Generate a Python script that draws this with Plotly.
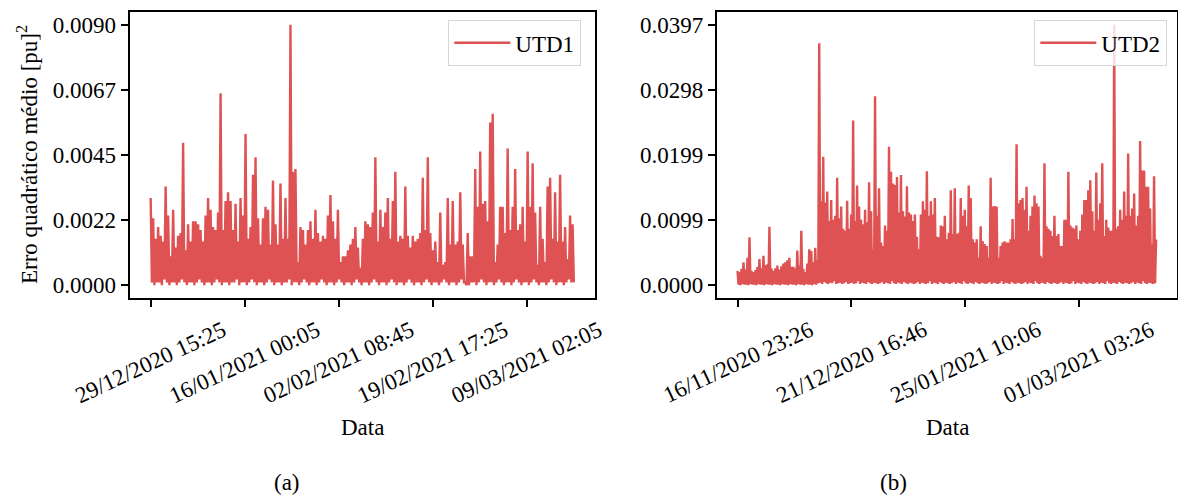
import pandas as pd
import plotly.graph_objects as go

# ---------------- data ----------------
utd1_start = "2020-12-29 15:25"
utd1_step_min = 332
utd1_peaks = [
    0.0030, 0.0023, 0.0016, 0.0020, 0.0017, 0.0015, 0.0034, 0.0024, 0.0010, 0.0026,
    0.0013, 0.0017, 0.0018, 0.0049, 0.0012, 0.0021, 0.0015, 0.0022, 0.0022, 0.0021,
    0.0019, 0.0015, 0.0024, 0.0030, 0.0026, 0.0020, 0.0019, 0.0025, 0.0066, 0.0019,
    0.0029, 0.0032, 0.0029, 0.0019, 0.0028, 0.0015, 0.0030, 0.0024, 0.0052, 0.0016,
    0.0020, 0.0038, 0.0044, 0.0023, 0.0014, 0.0023, 0.0027, 0.0026, 0.0014, 0.0036,
    0.0021, 0.0014, 0.0035, 0.0016, 0.0030, 0.0016, 0.00896, 0.0039, 0.0040, 0.0008,
    0.0020, 0.0019, 0.0014, 0.0019, 0.0022, 0.0016, 0.0026, 0.0018, 0.0015, 0.0017,
    0.0016, 0.0024, 0.0031, 0.0022, 0.0016, 0.0026, 0.0008, 0.0010, 0.0010, 0.0012,
    0.0014, 0.0016, 0.0020, 0.0013, 0.0006, 0.0016, 0.0022, 0.0021, 0.0020, 0.0025,
    0.0044, 0.0015, 0.0026, 0.0020, 0.0025, 0.0030, 0.0016, 0.0029, 0.0039, 0.0015,
    0.0017, 0.0016, 0.0034, 0.0017, 0.0013, 0.0017, 0.0015, 0.0016, 0.0018, 0.0037,
    0.0019, 0.0044, 0.0018, 0.0012, 0.0015, 0.0008, 0.0025, 0.0007, 0.0008, 0.0030,
    0.0014, 0.0029, 0.0014, 0.0015, 0.0032, 0.0014, 0.0001, 0.0018, 0.0010, 0.0010,
    0.0040, 0.0027, 0.0046, 0.0028, 0.0029, 0.0022, 0.0056, 0.0059, 0.0008, 0.0014,
    0.0027, 0.0027, 0.0018, 0.0047, 0.0019, 0.0027, 0.0040, 0.0019, 0.0021, 0.0027,
    0.0015, 0.0046, 0.0027, 0.0042, 0.0025, 0.0007, 0.0027, 0.0016, 0.0008, 0.0034,
    0.0037, 0.0016, 0.0032, 0.0015, 0.0038, 0.0015, 0.0020, 0.0009, 0.0024, 0.0021,
]
utd1_lows = [
    0.0001, 0.0000, 0.0001, 0.0001, 0.0000, 0.0002, 0.0001, 0.0000, 0.0001, 0.0001,
    0.0000, 0.0001, 0.0002, 0.0001, 0.0000, 0.0001, 0.0001, 0.0000, 0.0001, 0.0002,
    0.0001, 0.0000, 0.0001, 0.0001, 0.0000, 0.0001, 0.0002, 0.0001, 0.0000, 0.0001,
    0.0001, 0.0000, 0.0001, 0.0001, 0.0002, 0.0000, 0.0001, 0.0001, 0.0000, 0.0001,
    0.0002, 0.0001, 0.0000, 0.0001, 0.0001, 0.0000, 0.0001, 0.0002, 0.0001, 0.0000,
    0.0001, 0.0001, 0.0000, 0.0001, 0.0001, 0.0002, 0.0000, 0.0001, 0.0001, 0.0000,
    0.0001, 0.0002, 0.0001, 0.0000, 0.0001, 0.0001, 0.0000, 0.0001, 0.0002, 0.0001,
    0.0000, 0.0001, 0.0001, 0.0000, 0.0001, 0.0002, 0.0001, 0.0000, 0.0001, 0.0001,
    0.0000, 0.0001, 0.0002, 0.0001, 0.0000, 0.0001, 0.0001, 0.0000, 0.0001, 0.0002,
    0.0001, 0.0000, 0.0001, 0.0001, 0.0000, 0.0001, 0.0002, 0.0001, 0.0000, 0.0001,
    0.0001, 0.0000, 0.0001, 0.0002, 0.0001, 0.0000, 0.0001, 0.0001, 0.0000, 0.0001,
    0.0002, 0.0001, 0.0000, 0.0001, 0.0001, 0.0000, 0.0001, 0.0002, 0.0001, 0.0000,
    0.0001, 0.0001, 0.0000, 0.0001, 0.0002, 0.0001, 0.0000, 0.0000, 0.0001, 0.0001,
    0.0000, 0.0001, 0.0002, 0.0001, 0.0000, 0.0001, 0.0001, 0.0000, 0.0001, 0.0002,
    0.0001, 0.0000, 0.0001, 0.0001, 0.0000, 0.0001, 0.0002, 0.0001, 0.0000, 0.0001,
    0.0001, 0.0000, 0.0001, 0.0002, 0.0001, 0.0000, 0.0001, 0.0001, 0.0000, 0.0001,
    0.0002, 0.0001, 0.0000, 0.0001, 0.0001, 0.0000, 0.0001, 0.0002, 0.0001, 0.0001,
]

utd2_start = "2020-11-16 23:26"
utd2_step_min = 438
utd2_peaks = [
    0.0022, 0.0020, 0.0025, 0.0035, 0.0024, 0.0042, 0.0073, 0.0022, 0.0020, 0.0023,
    0.0028, 0.0040, 0.0026, 0.0045, 0.0031, 0.0032, 0.0089, 0.0026, 0.0022, 0.0026,
    0.0030, 0.0024, 0.0029, 0.0033, 0.0035, 0.0038, 0.0042, 0.0028, 0.0028, 0.0026,
    0.0053, 0.0030, 0.0083, 0.0025, 0.0020, 0.0033, 0.0055, 0.0052, 0.0035, 0.0057,
    0.0038, 0.0369, 0.0128, 0.0196, 0.0126, 0.0143, 0.0098, 0.0130, 0.0100, 0.0106,
    0.0164, 0.0102, 0.0120, 0.0086, 0.0083, 0.0129, 0.0086, 0.0108, 0.0251, 0.0098,
    0.0152, 0.0120, 0.0100, 0.0093, 0.0115, 0.0096, 0.0157, 0.0113, 0.0055, 0.0288,
    0.0106, 0.0148, 0.0065, 0.0060, 0.0091, 0.0083, 0.0211, 0.0173, 0.0155, 0.0153,
    0.0165, 0.0111, 0.0168, 0.0113, 0.0105, 0.0151, 0.0111, 0.0108, 0.0098, 0.0108,
    0.0074, 0.0055, 0.0108, 0.0128, 0.0115, 0.0174, 0.0106, 0.0128, 0.0108, 0.0133,
    0.0074, 0.0073, 0.0091, 0.0090, 0.0106, 0.0070, 0.0080, 0.0145, 0.0078, 0.0148,
    0.0078, 0.0080, 0.0133, 0.0106, 0.0115, 0.0090, 0.0152, 0.0133, 0.0070, 0.0065,
    0.0070, 0.0042, 0.0090, 0.0067, 0.0063, 0.0060, 0.0042, 0.0164, 0.0120, 0.0121,
    0.0120, 0.0042, 0.0060, 0.0065, 0.0067, 0.0065, 0.0065, 0.0070, 0.0101, 0.0070,
    0.0215, 0.0125, 0.0130, 0.0133, 0.0115, 0.0150, 0.0083, 0.0106, 0.0120, 0.0137,
    0.0125, 0.0120, 0.0045, 0.0042, 0.0186, 0.0090, 0.0086, 0.0083, 0.0075, 0.0106,
    0.0075, 0.0078, 0.0060, 0.0060, 0.0100, 0.0100, 0.0173, 0.0091, 0.0088, 0.0086,
    0.0091, 0.0070, 0.0083, 0.0108, 0.0130, 0.0130, 0.0145, 0.0160, 0.0113, 0.0083,
    0.0172, 0.0100, 0.0125, 0.0186, 0.0075, 0.0100, 0.0088, 0.0083, 0.0083, 0.03972,
    0.0086, 0.0090, 0.0115, 0.0100, 0.0143, 0.0106, 0.0201, 0.0106, 0.0117, 0.0140,
    0.0091, 0.0106, 0.0220, 0.0175, 0.0175, 0.0150, 0.0150, 0.0117, 0.0063, 0.0166,
    0.0070,
]
utd2_lows = [
    0.0001, 0.0000, 0.0002, 0.0001, 0.0001, 0.0000, 0.0002, 0.0001, 0.0001, 0.0000,
    0.0002, 0.0001, 0.0001, 0.0000, 0.0002, 0.0001, 0.0001, 0.0000, 0.0002, 0.0001,
    0.0001, 0.0000, 0.0002, 0.0001, 0.0001, 0.0000, 0.0002, 0.0001, 0.0001, 0.0000,
    0.0002, 0.0001, 0.0001, 0.0000, 0.0002, 0.0001, 0.0001, 0.0000, 0.0002, 0.0001,
    0.0003, 0.0004, 0.0002, 0.0005, 0.0003, 0.0002, 0.0004, 0.0003, 0.0006, 0.0002,
    0.0003, 0.0004, 0.0002, 0.0003, 0.0005, 0.0002, 0.0003, 0.0004, 0.0002, 0.0003,
    0.0006, 0.0002, 0.0004, 0.0003, 0.0002, 0.0005, 0.0003, 0.0002, 0.0004, 0.0003,
    0.0002, 0.0003, 0.0005, 0.0002, 0.0004, 0.0003, 0.0002, 0.0006, 0.0003, 0.0002,
    0.0004, 0.0003, 0.0002, 0.0005, 0.0003, 0.0002, 0.0004, 0.0003, 0.0002, 0.0003,
    0.0005, 0.0002, 0.0004, 0.0003, 0.0002, 0.0003, 0.0006, 0.0002, 0.0004, 0.0003,
    0.0002, 0.0005, 0.0003, 0.0002, 0.0004, 0.0003, 0.0002, 0.0003, 0.0005, 0.0002,
    0.0004, 0.0003, 0.0002, 0.0006, 0.0003, 0.0002, 0.0004, 0.0003, 0.0002, 0.0005,
    0.0003, 0.0002, 0.0004, 0.0003, 0.0002, 0.0003, 0.0005, 0.0002, 0.0004, 0.0003,
    0.0002, 0.0003, 0.0006, 0.0002, 0.0004, 0.0003, 0.0002, 0.0005, 0.0003, 0.0002,
    0.0004, 0.0003, 0.0002, 0.0003, 0.0005, 0.0002, 0.0004, 0.0003, 0.0002, 0.0006,
    0.0003, 0.0002, 0.0004, 0.0003, 0.0002, 0.0005, 0.0003, 0.0002, 0.0004, 0.0003,
    0.0002, 0.0003, 0.0005, 0.0002, 0.0004, 0.0003, 0.0002, 0.0003, 0.0006, 0.0002,
    0.0004, 0.0003, 0.0002, 0.0005, 0.0003, 0.0002, 0.0004, 0.0003, 0.0002, 0.0003,
    0.0005, 0.0002, 0.0004, 0.0003, 0.0002, 0.0006, 0.0003, 0.0002, 0.0004, 0.0003,
    0.0002, 0.0005, 0.0003, 0.0002, 0.0004, 0.0003, 0.0002, 0.0003, 0.0005, 0.0002,
    0.0004, 0.0003, 0.0002, 0.0006, 0.0003, 0.0002, 0.0004, 0.0003, 0.0002, 0.0003,
]

utd1_ticks = ["29/12/2020 15:25", "16/01/2021 00:05", "02/02/2021 08:45",
              "19/02/2021 17:25", "09/03/2021 02:05"]
utd2_ticks = ["16/11/2020 23:26", "21/12/2020 16:46", "25/01/2021 10:06",
              "01/03/2021 03:26"]

series_names = ["UTD1", "UTD2"]
y_title = "Erro quadrático médio [pu]<sup>2</sup>"
x_title = "Data"
captions = ["(a)", "(b)"]

# ---------------- build ----------------
def build(peaks, lows, start, step):
    vals = []
    for i, p in enumerate(peaks):
        vals.append(p)
        if i < len(lows):
            vals.append(lows[i])
    t = pd.date_range(start, periods=len(vals), freq=f"{step}min")
    return t, vals

t1, v1 = build(utd1_peaks, utd1_lows, utd1_start, utd1_step_min)
t2, v2 = build(utd2_peaks, utd2_lows, utd2_start, utd2_step_min)

W, H = 1178, 495
FONT = "Liberation Serif"
FS = 23
RED = "rgb(222,82,83)"

def xr(t):
    span = t[-1] - t[0]
    return [str(t[0] - span * 0.05), str(t[-1] + span * 0.05)]

def yr(v):
    lo, hi = min(v), max(v)
    s = hi - lo
    return [lo - 0.05 * s, hi + 0.05 * s]

def yticks(v):
    m = max(v)
    vals = [m * i / 4 for i in range(5)]
    return vals, [f"{x:.4f}" for x in vals]

fig = go.Figure()
fig.add_trace(go.Scatter(x=t1, y=v1, mode="lines", name=series_names[0],
                         line=dict(color=RED, width=2.4), xaxis="x", yaxis="y",
                         legend="legend"))
fig.add_trace(go.Scatter(x=t2, y=v2, mode="lines", name=series_names[1],
                         line=dict(color=RED, width=2.4), xaxis="x2", yaxis="y2",
                         legend="legend2"))

ydom = [1 - 298.3 / H, 1 - 11.7 / H]
axis_common = dict(showline=True, linecolor="black", linewidth=1.7, mirror=True,
                   ticks="outside", ticklen=7, tickwidth=1.7, tickcolor="black",
                   showgrid=False, zeroline=False, automargin=False,
                   tickfont=dict(family=FONT, size=FS, color="black"))

tv1, tt1 = yticks(v1)
tv2, tt2 = yticks(v2)
fmt = "%d/%m/%Y %H:%M"
xt1 = pd.to_datetime(utd1_ticks, format=fmt)
xt2 = pd.to_datetime(utd2_ticks, format=fmt)

legend_common = dict(y=1 - 20 / H, yanchor="top", xanchor="right",
                     bgcolor="rgba(255,255,255,0.8)", bordercolor="#d6d6d6",
                     borderwidth=1.3, itemwidth=56, entrywidth=145,
                     entrywidthmode="pixels",
                     font=dict(family=FONT, size=FS, color="black"))

fig.update_layout(
    width=W, height=H, margin=dict(l=0, r=0, t=0, b=0, autoexpand=False),
    paper_bgcolor="white", plot_bgcolor="white",
    font=dict(family=FONT, size=FS, color="black"),
    xaxis=dict(domain=[129.5 / W, 595 / W], range=xr(t1), type="date",
               tickvals=xt1, showticklabels=False, anchor="y", **axis_common),
    yaxis=dict(domain=ydom, range=yr(v1), tickvals=tv1, ticktext=tt1,
               anchor="x", **axis_common),
    xaxis2=dict(domain=[716.6 / W, 1177 / W], range=xr(t2), type="date",
                tickvals=xt2, showticklabels=False, anchor="y2", **axis_common),
    yaxis2=dict(domain=ydom, range=yr(v2), tickvals=tv2, ticktext=tt2,
                anchor="x2", **axis_common),
    legend=dict(x=581 / W, **legend_common),
    legend2=dict(x=1167 / W, **legend_common),
    showlegend=True,
)

# rotated, centred date tick labels
for xref, tvals, labels in (("x", xt1, utd1_ticks), ("x2", xt2, utd2_ticks)):
    for tv, lab in zip(tvals, labels):
        fig.add_annotation(xref=xref, yref="paper", x=tv, y=1 - 362 / H,
                           text=lab, textangle=-25, showarrow=False,
                           xanchor="center", yanchor="middle",
                           font=dict(family=FONT, size=FS, color="black"))

ann = [
    dict(text=x_title, x=362 / W, y=1 - 427 / H),
    dict(text=x_title, x=947 / W, y=1 - 427 / H),
    dict(text=captions[0], x=287 / W, y=1 - 482 / H),
    dict(text=captions[1], x=893 / W, y=1 - 482 / H),
    dict(text=y_title, x=27 / W, y=1 - 155 / H, textangle=-90),
]
for a in ann:
    fig.add_annotation(xref="paper", yref="paper", xanchor="center", yanchor="middle",
                       showarrow=False, font=dict(family=FONT, size=FS, color="black"), **a)

fig.write_html("out.html")
